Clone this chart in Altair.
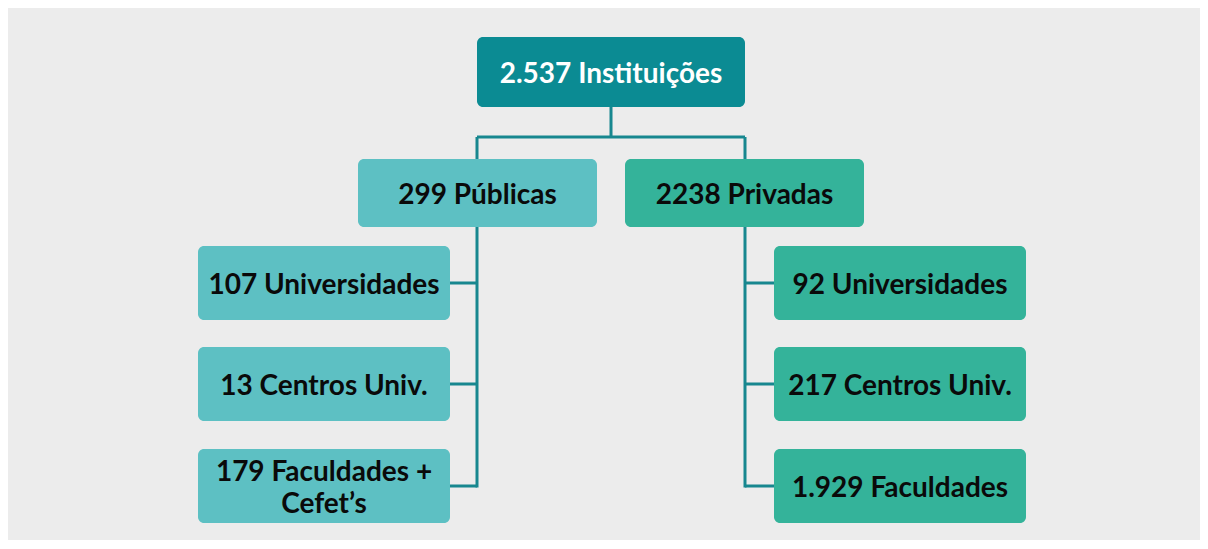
import altair as alt
import pandas as pd

# ---- data ----
root_label = "2.537 Instituições"
group_labels = ["299 Públicas", "2238 Privadas"]
public_children = ["107 Universidades", "13 Centros Univ.", "179 Faculdades +\nCefet’s"]
private_children = ["92 Universidades", "217 Centros Univ.", "1.929 Faculdades"]

# ---- layout (chart pixel space) ----
W, H = 1192, 532
ROOT = (469, 737, 29, 99)
GROUP_W, GROUP_Y = 239, (151, 219)
GROUP_X = [350, 617]
CHILD_W = 252
CHILD_X = [190, 766]
CHILD_Y = [(238, 312), (339, 413), (441, 515)]
TRUNK_X = [469, 737]
JOIN_Y = 129
LINE_H = 32

C_ROOT = "#0b8b93"
C_PUB = "#5dc0c3"
C_PRIV = "#34b39a"
C_LINE = "#17878f"

boxes = []
boxes.append(dict(x=ROOT[0], x2=ROOT[1], y=ROOT[2], y2=ROOT[3], label=root_label, fill=C_ROOT, tc="#ffffff"))
for i, g in enumerate(group_labels):
    boxes.append(dict(x=GROUP_X[i], x2=GROUP_X[i] + GROUP_W, y=GROUP_Y[0], y2=GROUP_Y[1],
                      label=g, fill=[C_PUB, C_PRIV][i], tc="#0a0a0a"))
for side, kids in enumerate([public_children, private_children]):
    for j, k in enumerate(kids):
        boxes.append(dict(x=CHILD_X[side], x2=CHILD_X[side] + CHILD_W, y=CHILD_Y[j][0], y2=CHILD_Y[j][1],
                          label=k, fill=[C_PUB, C_PRIV][side], tc="#0a0a0a"))
bdf = pd.DataFrame(boxes)

# one text row per line, centred as a block in its box
trows = []
for b in boxes:
    parts = b["label"].split("\n")
    cx = (b["x"] + b["x2"]) / 2
    cy = (b["y"] + b["y2"]) / 2
    n = len(parts)
    for k, p in enumerate(parts):
        trows.append(dict(cx=cx, cy=cy + (k - (n - 1) / 2) * LINE_H, text=p, tc=b["tc"]))
tdf = pd.DataFrame(trows)

lines = []
cxr = (ROOT[0] + ROOT[1]) / 2
lines.append(dict(x=cxr, x2=cxr, y=ROOT[3], y2=JOIN_Y))
lines.append(dict(x=TRUNK_X[0], x2=TRUNK_X[1], y=JOIN_Y, y2=JOIN_Y))
for side in range(2):
    tx = TRUNK_X[side]
    lines.append(dict(x=tx, x2=tx, y=JOIN_Y, y2=GROUP_Y[0]))
    last = (CHILD_Y[-1][0] + CHILD_Y[-1][1]) / 2
    lines.append(dict(x=tx, x2=tx, y=GROUP_Y[1], y2=last + 1.5))
    for j in range(3):
        cy = (CHILD_Y[j][0] + CHILD_Y[j][1]) / 2
        edge = CHILD_X[side] + CHILD_W if side == 0 else CHILD_X[side]
        lines.append(dict(x=min(edge, tx), x2=max(edge, tx), y=cy, y2=cy))
ldf = pd.DataFrame(lines)

xs = alt.Scale(domain=[0, W], range=[0, W], nice=False, zero=False)
ys = alt.Scale(domain=[0, H], range=[0, H], nice=False, zero=False)
X = lambda f: alt.X(f, type="quantitative", scale=xs, axis=None)
Y = lambda f: alt.Y(f, type="quantitative", scale=ys, axis=None)

rules = alt.Chart(ldf).mark_rule(color=C_LINE, strokeWidth=3).encode(
    x=X("x"), x2="x2", y=Y("y"), y2="y2")

rects = alt.Chart(bdf).mark_rect(cornerRadius=6).encode(
    x=X("x"), x2="x2", y=Y("y"), y2="y2",
    color=alt.Color("fill:N", scale=None))

texts = alt.Chart(tdf).mark_text(font="Lato", fontWeight="bold", fontSize=28,
                                 baseline="middle", align="center", dy=3).encode(
    x=X("cx"), y=Y("cy"), text="text:N",
    color=alt.Color("tc:N", scale=None))

chart = alt.layer(rules, rects, texts).properties(
    width=W, height=H, background="#ececec", padding=0,
    autosize=alt.AutoSizeParams(type="none")
).configure_view(stroke=None)

chart.save("out.html", embed_options={"renderer": "svg", "actions": False})
